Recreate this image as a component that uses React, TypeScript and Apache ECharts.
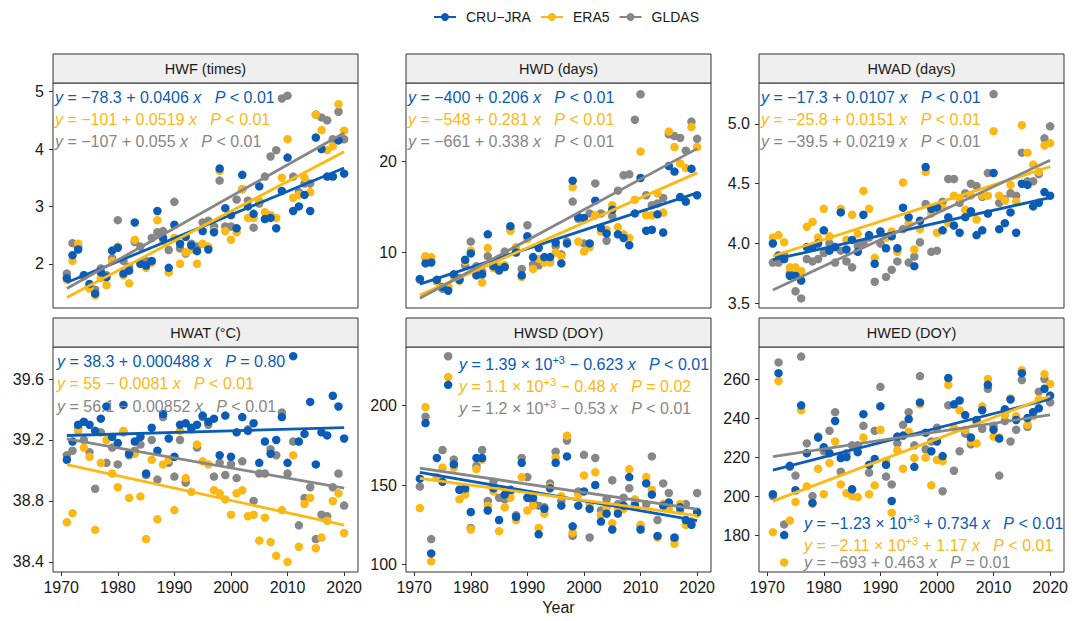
import React, { useEffect, useRef } from 'react';
import * as echarts from 'echarts';

const FONT = '"Liberation Sans", Arial, Helvetica, sans-serif';
const BLUE = '#0a5cb6';
const ORANGE = '#fcb813';
const GRAY = '#878787';

const YEARS = [
  1971, 1972, 1973, 1974, 1975, 1976, 1977, 1978, 1979, 1980,
  1981, 1982, 1983, 1984, 1985, 1986, 1987, 1988, 1989, 1990,
  1991, 1992, 1993, 1994, 1995, 1996, 1997, 1998, 1999, 2000,
  2001, 2002, 2003, 2004, 2005, 2006, 2007, 2008, 2009, 2010,
  2011, 2012, 2013, 2014, 2015, 2016, 2017, 2018, 2019, 2020,
];
const DATASETS = ['CRU-JRA', 'ERA5', 'GLDAS'];
const COLORS = [BLUE, ORANGE, GRAY];
const X_TICKS = [1970, 1980, 1990, 2000, 2010, 2020];
const X_RANGE = [1968.55, 2022.45];

// ---- HWF (times)
const HWF_CRU = [1.75, 2.15, 2.25, 1.80, 1.65, 1.48, 1.85, 1.77, 2.23, 2.28, 1.83, 1.88, 2.72, 2.00, 1.97, 2.05, 2.92, 2.45, 1.93, 2.68, 2.35, 2.47, 2.32, 2.22, 2.57, 2.25, 2.55, 3.66, 2.97, 2.85, 2.62, 3.55, 3.00, 2.87, 3.35, 2.78, 2.80, 2.62, 3.27, 3.85, 2.92, 3.00, 3.20, 2.92, 4.20, 4.00, 3.52, 3.52, 4.15, 3.57];
const HWF_ERA5 = [1.72, 2.05, 2.35, 1.78, 1.57, 1.45, 1.75, 1.63, 2.05, 2.30, 1.80, 1.66, 2.42, 2.00, 1.93, 2.02, 2.76, 2.40, 1.85, 2.45, 2.00, 2.20, 2.25, 2.00, 2.35, 2.30, 2.57, 3.62, 2.57, 2.42, 2.55, 3.30, 2.80, 2.80, 3.10, 2.90, 2.85, 2.80, 3.50, 4.17, 3.15, 3.20, 3.50, 3.25, 4.60, 4.33, 3.98, 4.05, 4.78, 4.32];
const HWF_GLDAS = [1.83, 2.36, 2.30, 1.80, 1.60, 1.55, 1.92, 1.80, 2.10, 2.76, 2.05, 1.95, 2.38, 2.30, 2.05, 2.45, 2.55, 2.57, 2.24, 3.08, 2.27, 2.18, 2.35, 2.30, 2.72, 2.75, 2.65, 3.45, 2.65, 2.65, 3.12, 3.30, 3.10, 2.63, 3.05, 3.52, 3.87, 3.98, 4.88, 4.93, 3.52, 3.25, 3.40, 3.40, 4.60, 4.55, 4.50, 4.17, 4.65, 4.17];

// ---- HWD (days)
const HWD_CRU = [7.1, 8.8, 8.9, 7.0, 6.2, 5.8, 7.6, 7.0, 9.2, 9.9, 7.5, 7.6, 12.0, 8.5, 8.1, 8.4, 12.9, 10.0, 7.5, 11.8, 9.5, 10.5, 9.5, 9.5, 11.1, 8.8, 11.0, 17.9, 13.9, 13.8, 11.0, 15.7, 12.7, 12.1, 14.7, 12.0, 11.6, 10.8, 14.3, 18.2, 12.4, 12.5, 14.2, 12.2, 19.5, 18.9, 16.1, 15.6, 19.2, 16.3];
const HWD_ERA5 = [7.0, 9.6, 9.5, 6.8, 6.2, 6.3, 7.3, 6.9, 9.0, 10.2, 7.7, 6.7, 10.5, 8.3, 8.5, 8.6, 12.4, 10.6, 7.3, 11.5, 8.2, 9.3, 8.9, 8.9, 10.0, 9.6, 11.0, 17.2, 11.2, 10.1, 10.6, 14.1, 12.3, 12.5, 15.2, 12.8, 12.0, 11.6, 15.8, 21.1, 14.1, 14.1, 16.5, 14.4, 23.3, 21.6, 19.8, 19.3, 23.8, 21.6];
const HWD_GLDAS = [7.0, 9.4, 9.0, 6.9, 6.0, 6.1, 7.5, 7.2, 8.6, 11.2, 8.5, 7.9, 9.6, 8.7, 8.0, 10.1, 12.6, 10.2, 8.2, 13.0, 8.7, 8.6, 9.2, 9.0, 10.7, 9.8, 11.2, 15.6, 13.7, 11.0, 14.3, 17.6, 14.3, 11.3, 14.0, 16.8, 18.5, 18.6, 24.6, 27.4, 16.3, 15.2, 15.4, 16.0, 23.0, 22.8, 22.6, 21.2, 24.4, 22.5];

// ---- HWAD (days)
const HWAD_CRU = [4.00, 3.90, 3.87, 3.73, 3.73, 3.69, 3.97, 3.97, 4.00, 4.11, 3.94, 3.97, 4.26, 3.95, 4.03, 3.93, 4.24, 4.07, 3.83, 4.10, 3.96, 4.06, 3.96, 4.30, 4.22, 3.81, 4.19, 4.64, 4.29, 4.30, 4.11, 4.22, 4.15, 4.09, 4.22, 4.27, 4.07, 4.11, 4.25, 4.59, 4.12, 4.17, 4.26, 4.09, 4.50, 4.49, 4.31, 4.34, 4.43, 4.40];
const HWAD_ERA5 = [4.05, 4.07, 4.01, 3.80, 3.80, 3.77, 4.14, 4.18, 4.05, 4.29, 4.06, 3.97, 4.29, 4.03, 4.24, 4.08, 4.44, 4.29, 3.88, 4.10, 4.05, 4.10, 3.93, 4.51, 4.17, 3.95, 4.12, 4.60, 4.25, 4.09, 4.30, 4.17, 4.40, 4.38, 4.28, 4.40, 4.20, 4.40, 4.40, 4.94, 4.40, 4.36, 4.49, 4.35, 4.99, 4.76, 4.66, 4.60, 4.82, 4.84];
const HWAD_GLDAS = [3.84, 3.84, 3.90, 3.75, 3.60, 3.54, 3.87, 3.85, 3.87, 3.92, 4.00, 3.84, 3.94, 3.85, 3.80, 3.98, 4.00, 4.05, 3.68, 4.00, 3.72, 3.78, 3.85, 4.12, 3.84, 3.89, 4.01, 4.33, 3.93, 3.94, 4.35, 4.54, 4.54, 4.34, 4.42, 4.50, 4.48, 4.39, 4.59, 5.25, 4.34, 4.37, 4.42, 4.40, 4.76, 4.52, 4.52, 4.58, 4.88, 4.98];

// ---- HWAT (°C)
const HWAT_CRU = [39.07, 39.19, 39.30, 39.32, 39.30, 39.26, 39.34, 39.42, 39.22, 39.18, 39.43, 39.11, 39.19, 39.22, 38.98, 39.28, 39.13, 39.37, 39.21, 39.09, 39.30, 39.31, 39.28, 39.30, 39.36, 39.32, 39.34, 39.10, 39.36, 39.09, 39.25, 39.35, 39.26, 39.31, 39.05, 39.19, 39.11, 39.20, 39.35, 39.05, 39.75, 39.19, 39.24, 39.45, 39.04, 39.25, 39.23, 39.49, 39.42, 39.21];
const HWAT_ERA5 = [38.66, 38.72, 39.26, 39.15, 39.09, 38.61, 39.05, 39.20, 38.98, 38.89, 39.26, 38.82, 39.11, 38.83, 38.55, 39.07, 38.68, 39.04, 39.07, 38.74, 39.26, 38.95, 38.86, 39.17, 39.06, 39.04, 38.87, 38.85, 38.81, 38.71, 38.85, 38.87, 38.70, 38.71, 38.54, 38.69, 38.53, 38.44, 38.74, 38.40, 39.10, 38.50, 38.78, 38.82, 38.49, 38.56, 38.67, 38.80, 38.85, 38.59];
const HWAT_GLDAS = [39.10, 39.13, 39.28, 39.20, 39.12, 38.88, 39.25, 39.05, 39.15, 39.04, 39.25, 39.10, 39.13, 39.17, 38.97, 39.20, 38.94, 39.35, 39.05, 38.96, 39.20, 38.92, 39.27, 39.15, 39.35, 39.30, 38.96, 39.05, 38.97, 39.04, 38.95, 39.06, 39.27, 38.80, 38.98, 38.98, 39.14, 39.10, 39.38, 38.98, 39.19, 38.64, 38.82, 38.89, 38.55, 38.71, 38.70, 38.89, 38.98, 38.77];

// ---- HWSD (DOY)
const HWSD_CRU = [154, 189, 107, 167, 152, 213, 163, 147, 148, 133, 167, 167, 134, 148, 128, 144, 147, 130, 164, 142, 142, 119, 135, 148, 164, 137, 168, 124, 137, 146, 135, 150, 127, 132, 122, 132, 137, 155, 137, 122, 151, 144, 118, 137, 139, 117, 136, 128, 125, 133];
const HWSD_ERA5 = [135.5, 199, 102, 155, 161, 218, 161, 141, 144, 122, 160, 166, 137, 146, 121, 136, 142, 128, 155, 134, 137, 123, 132, 149, 167, 143, 181, 120, 144, 156, 138, 158, 131, 136, 126, 134, 135, 160, 141, 125, 155, 147, 117, 138, 135, 113, 138, 125, 127, 132];
const HWSD_GLDAS = [149, 193, 116, 155, 172, 231, 166, 147, 146, 123, 162, 172, 140, 152, 142, 141, 146, 131, 167, 155, 140, 137, 136, 151, 171, 140, 178, 118, 146, 169, 117, 167, 134, 141, 153, 138, 142, 148, 139, 124, 138, 168, 128, 151, 145, 116, 134, 138, 127, 145];

// ---- HWED (DOY)
const HWED_CRU = [201, 263, 180, 215.5, 203, 246.5, 222, 196.5, 230, 225, 222, 238.5, 219.5, 220, 203.5, 222.5, 242, 216, 219, 246, 216, 197.5, 230.5, 231, 239.5, 215, 248, 232.5, 223, 228, 220.5, 260.5, 247, 249, 241.5, 230, 239, 244, 257, 234, 229.5, 244.5, 249.5, 239, 263, 240, 243, 245, 255, 251.5];
const HWED_ERA5 = [181.5, 259, 166, 187.5, 197, 244, 205, 196, 214, 201, 217, 228, 206, 201.5, 200, 199.5, 230, 201, 205.5, 234, 218, 191.5, 223.5, 214, 233, 219.5, 247, 219.7, 205.5, 218.5, 218, 257, 235, 244, 234, 228, 227, 246, 260, 230.5, 230, 241.5, 250, 241, 264.5, 236.5, 241, 249.5, 262.5, 257.5];
const HWED_GLDAS = [200, 268.5, 185.5, 215, 210.5, 271.5, 227, 200, 230.5, 223, 233.5, 243, 212.5, 222, 226, 226, 236, 212, 233.5, 256, 210, 206, 227, 236.5, 243, 226, 261.5, 224, 228, 235, 202.5, 246.5, 213, 223, 232, 226.5, 238, 234.5, 255, 236, 210.5, 238.5, 228, 234, 259.5, 235.5, 243, 253.5, 260, 248];

// ---- panel texts & axes
const PANEL_TITLES = ['HWF (times)', 'HWD (days)', 'HWAD (days)', 'HWAT (°C)', 'HWSD (DOY)', 'HWED (DOY)'];
const PANEL_DATA = [
  [HWF_CRU, HWF_ERA5, HWF_GLDAS],
  [HWD_CRU, HWD_ERA5, HWD_GLDAS],
  [HWAD_CRU, HWAD_ERA5, HWAD_GLDAS],
  [HWAT_CRU, HWAT_ERA5, HWAT_GLDAS],
  [HWSD_CRU, HWSD_ERA5, HWSD_GLDAS],
  [HWED_CRU, HWED_ERA5, HWED_GLDAS],
];
const Y_RANGES = [[1.23, 5.15], [3.9, 28.64], [3.46, 5.343], [38.334, 39.81], [95.3, 236.8], [161.1, 276.4]];
const Y_TICKS = [[2, 3, 4, 5], [10, 20], [3.5, 4.0, 4.5, 5.0], [38.4, 38.8, 39.2, 39.6], [100, 150, 200], [180, 200, 220, 240, 260]];
const Y_DECIMALS = [0, 0, 1, 1, 0, 0];

const EQUATIONS = [
  [
    '{i|y}{n| = −78.3 + 0.0406 }{i|x}{n|   }{i|P}{n| < 0.01}',
    '{i|y}{n| = −101 + 0.0519 }{i|x}{n|   }{i|P}{n| < 0.01}',
    '{i|y}{n| = −107 + 0.055 }{i|x}{n|   }{i|P}{n| < 0.01}',
  ],
  [
    '{i|y}{n| = −400 + 0.206 }{i|x}{n|   }{i|P}{n| < 0.01}',
    '{i|y}{n| = −548 + 0.281 }{i|x}{n|   }{i|P}{n| < 0.01}',
    '{i|y}{n| = −661 + 0.338 }{i|x}{n|   }{i|P}{n| < 0.01}',
  ],
  [
    '{i|y}{n| = −17.3 + 0.0107 }{i|x}{n|   }{i|P}{n| < 0.01}',
    '{i|y}{n| = −25.8 + 0.0151 }{i|x}{n|   }{i|P}{n| < 0.01}',
    '{i|y}{n| = −39.5 + 0.0219 }{i|x}{n|   }{i|P}{n| < 0.01}',
  ],
  [
    '{i|y}{n| = 38.3 + 0.000488 }{i|x}{n|   }{i|P}{n| = 0.80}',
    '{i|y}{n| = 55 − 0.0081 }{i|x}{n|   }{i|P}{n| < 0.01}',
    '{i|y}{n| = 56.1 − 0.00852 }{i|x}{n|   }{i|P}{n| < 0.01}',
  ],
  [
    '{i|y}{n| = 1.39 × 10}{s|+3}{n| − 0.623 }{i|x}{n|   }{i|P}{n| < 0.01}',
    '{i|y}{n| = 1.1 × 10}{s|+3}{n| − 0.48 }{i|x}{n|   }{i|P}{n| = 0.02}',
    '{i|y}{n| = 1.2 × 10}{s|+3}{n| − 0.53 }{i|x}{n|   }{i|P}{n| < 0.01}',
  ],
  [
    '{i|y}{n| = −1.23 × 10}{s|+3}{n| + 0.734 }{i|x}{n|   }{i|P}{n| < 0.01}',
    '{i|y}{n| = −2.11 × 10}{s|+3}{n| + 1.17 }{i|x}{n|   }{i|P}{n| < 0.01}',
    '{i|y}{n| = −693 + 0.463 }{i|x}{n|   }{i|P}{n| = 0.01}',
  ],
];

// layout (pixels)
const COL_X = [53, 406, 759];
const ROW_Y = [83, 347];
const PANEL_W = 305;
const PANEL_H = 225;
const STRIP_H = 29;
const EQ_X = [55, 408, 761, 57, 459, 804];
const EQ_Y = [
  [97, 119, 141],
  [97, 119, 141],
  [97, 119, 141],
  [361, 383, 406],
  [364, 386, 408],
  [523, 545, 562],
];

function ols(xs: number[], ys: number[]): [number, number] {
  const n = xs.length;
  let mx = 0, my = 0;
  for (let i = 0; i < n; i++) { mx += xs[i]; my += ys[i]; }
  mx /= n; my /= n;
  let sxy = 0, sxx = 0;
  for (let i = 0; i < n; i++) {
    sxy += (xs[i] - mx) * (ys[i] - my);
    sxx += (xs[i] - mx) * (xs[i] - mx);
  }
  const b = sxy / sxx;
  return [my - b * mx, b];
}

function richFor(color: string) {
  return {
    n: { fill: color, fontSize: 16, fontFamily: FONT, lineHeight: 20 },
    i: { fill: color, fontSize: 16, fontFamily: FONT, fontStyle: 'italic', lineHeight: 20 },
    s: { fill: color, fontSize: 11, fontFamily: FONT, lineHeight: 12, verticalAlign: 'top' },
  };
}

function buildOption() {
  const grid = PANEL_TITLES.map((_, i) => ({
    left: COL_X[i % 3],
    top: ROW_Y[Math.floor(i / 3)],
    width: PANEL_W,
    height: PANEL_H,
    show: true,
    borderColor: '#333',
    borderWidth: 1,
    backgroundColor: '#fff',
  }));

  const xAxis = PANEL_TITLES.map((_, i) => ({
    type: 'value',
    gridIndex: i,
    min: X_RANGE[0],
    max: X_RANGE[1],
    axisLine: { show: false },
    splitLine: { show: false },
    axisTick: { show: i >= 3, length: 4, lineStyle: { color: '#333', width: 1 }, customValues: X_TICKS },
    axisLabel: {
      show: i >= 3,
      customValues: X_TICKS,
      fontSize: 16,
      color: '#1a1a1a',
      fontFamily: FONT,
      margin: 7,
      formatter: (v: number) => String(v),
    },
  }));

  const yAxis = PANEL_TITLES.map((_, i) => ({
    type: 'value',
    gridIndex: i,
    min: Y_RANGES[i][0],
    max: Y_RANGES[i][1],
    axisLine: { show: false },
    splitLine: { show: false },
    axisTick: { show: true, length: 4, lineStyle: { color: '#333', width: 1 }, customValues: Y_TICKS[i] },
    axisLabel: {
      customValues: Y_TICKS[i],
      fontSize: 16,
      color: '#1a1a1a',
      fontFamily: FONT,
      margin: 9,
      formatter: (v: number) => v.toFixed(Y_DECIMALS[i]),
    },
  }));

  const series: any[] = [];
  PANEL_DATA.forEach((sets, i) => {
    sets.forEach((vals, k) => {
      const [a, b] = ols(YEARS, vals);
      const x0 = YEARS[0];
      const x1 = YEARS[YEARS.length - 1];
      series.push({
        type: 'line',
        name: DATASETS[k],
        xAxisIndex: i,
        yAxisIndex: i,
        data: [[x0, a + b * x0], [x1, a + b * x1]],
        showSymbol: false,
        symbol: 'circle',
        symbolSize: 8,
        lineStyle: { width: 2.8, color: COLORS[k] },
        itemStyle: { color: COLORS[k] },
        z: 5,
        silent: true,
      });
    });
  });
  PANEL_DATA.forEach((sets, i) => {
    [2, 1, 0].forEach((k) => {
      series.push({
        type: 'scatter',
        name: DATASETS[k],
        xAxisIndex: i,
        yAxisIndex: i,
        data: YEARS.map((y, j) => [y, sets[k][j]]),
        symbol: 'circle',
        symbolSize: 8.5,
        itemStyle: { color: COLORS[k], opacity: 1 },
        z: 2,
        silent: true,
      });
    });
  });

  const graphic: any[] = [];
  PANEL_TITLES.forEach((title, i) => {
    const x = COL_X[i % 3];
    const y = ROW_Y[Math.floor(i / 3)] - STRIP_H;
    graphic.push({
      type: 'rect',
      silent: true,
      shape: { x: x, y: y, width: PANEL_W, height: STRIP_H },
      style: { fill: '#efefef', stroke: '#333', lineWidth: 1 },
    });
    graphic.push({
      type: 'text',
      silent: true,
      x: x + PANEL_W / 2,
      y: y + STRIP_H / 2,
      style: { text: title, fill: '#1a1a1a', font: `14.5px ${FONT}`, align: 'center', verticalAlign: 'middle' },
    });
    EQUATIONS[i].forEach((eq, k) => {
      graphic.push({
        type: 'text',
        silent: true,
        z: 10,
        x: EQ_X[i],
        y: EQ_Y[i][k],
        style: {
          text: eq,
          rich: richFor(COLORS[k]),
          fill: COLORS[k],
          font: `16px ${FONT}`,
          align: 'left',
          verticalAlign: 'middle',
        },
      });
    });
  });
  graphic.push({
    type: 'text',
    silent: true,
    x: COL_X[1] + PANEL_W / 2,
    y: 607,
    style: { text: 'Year', fill: '#1a1a1a', font: `16px ${FONT}`, align: 'center', verticalAlign: 'middle' },
  });

  return {
    animation: false,
    backgroundColor: '#fff',
    legend: {
      data: DATASETS,
      left: 428,
      top: 5,
      itemWidth: 22,
      itemHeight: 10,
      itemGap: 9,
      selectedMode: false,
      formatter: (name: string) => name.replace('-', '−'),
      textStyle: { fontSize: 14, color: '#1a1a1a', fontFamily: FONT, padding: [0, 0, 0, 5] },
    },
    grid,
    xAxis,
    yAxis,
    series,
    graphic,
  };
}

export default function App() {
  const ref = useRef<HTMLDivElement>(null);
  useEffect(() => {
    if (!ref.current) return;
    const chart = echarts.init(ref.current, null, { renderer: 'svg' });
    chart.setOption(buildOption() as any);
    return () => chart.dispose();
  }, []);
  return (
    <div
      ref={ref}
      style={{ position: 'absolute', left: 0, top: 0, width: 1077, height: 621, background: '#fff' }}
    />
  );
}
